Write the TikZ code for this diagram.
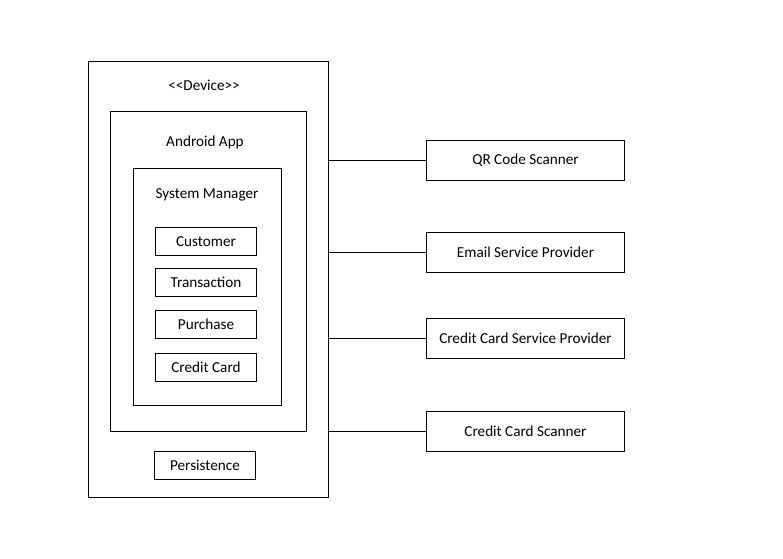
\documentclass[tikz,border=0pt]{standalone}
\usepackage{fontspec}
\setmainfont{Carlito}
\begin{document}
\begin{tikzpicture}[x=1pt,y=-1pt,
  box/.style={draw=black,line width=1pt,inner sep=0pt,anchor=north west},
  lbl/.style={inner sep=0pt,font=\fontsize{15.2}{18}\selectfont},
  link/.style={draw=black,line width=1pt}]
\useasboundingbox (0,0) rectangle (783,558);
% containers
\node[box,minimum width=240pt,minimum height=436pt] (dev) at (88,61) {};
\node[box,minimum width=196pt,minimum height=320pt] (app) at (110,111) {};
\node[box,minimum width=148pt,minimum height=237pt] (sys) at (133,168) {};
\node[lbl] (devt) at (204,85) {<\kern0pt<Device>\kern0pt>};
\node[lbl] (appt) at (205,142.5) {Android App};
\node[lbl] (syst) at (207,194.5) {System Manager};
% inner classes
\node[box,lbl,minimum width=101pt,minimum height=28pt] (cust) at (155,227) {Customer};
\node[box,lbl,minimum width=101pt,minimum height=28pt] (tran) at (155,268) {Transaction};
\node[box,lbl,minimum width=101pt,minimum height=28pt] (purc) at (155,310) {Purchase};
\node[box,lbl,minimum width=101pt,minimum height=28pt] (ccard) at (155,353) {Credit Card};
\node[box,lbl,minimum width=101pt,minimum height=28pt] (pers) at (154,451) {Persistence};
% external
\node[box,lbl,minimum width=198pt,minimum height=40pt] (qr) at (426,140) {QR Code Scanner};
\node[box,lbl,minimum width=198pt,minimum height=40pt] (email) at (426,232) {Email Service Provider};
\node[box,lbl,minimum width=198pt,minimum height=40pt] (ccsp) at (426,318) {Credit Card Service Provider};
\node[box,lbl,minimum width=198pt,minimum height=40pt] (ccs) at (426,411) {Credit Card Scanner};
% connectors
\draw[link] (qr.west) -- (qr.west -| dev.east);
\draw[link] (email.west) -- (email.west -| dev.east);
\draw[link] (ccsp.west) -- (ccsp.west -| dev.east);
\draw[link] (ccs.west) -- (ccs.west -| dev.east);
\end{tikzpicture}
\end{document}
